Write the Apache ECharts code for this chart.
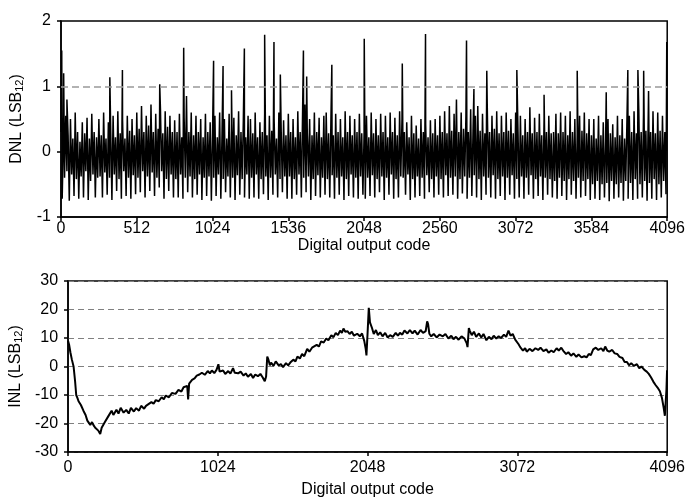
<!DOCTYPE html>
<html>
<head>
<meta charset="utf-8">
<script src="https://cdn.jsdelivr.net/npm/echarts@6/dist/echarts.min.js"></script>
<style>
  html, body { margin: 0; padding: 0; background: #fff; }
  #chart { width: 688px; height: 499px; }
</style>
</head>
<body>
<div id="chart"></div>
<script>
// DNL band, one value every 8 codes (alternating high / low excursions)
var dnlStep = 8;
var dnlBand = [
  0.3, -0.72, 0.2, -0.4, 0.55, -0.3, 0.25, -0.75, 0.5, -0.35, 0.2, -0.68, 0.6, -0.42, 0.3, -0.72, 0.15, -0.38, 0.45, -0.7, 0.28, -0.3, 0.52, -0.74, 0.2, -0.45, 0.58, -0.35, 0.3, -0.7, 0.22, -0.4,
  0.5, -0.38, 0.25, -0.7, 0.6, -0.32, 0.2, -0.66, 0.45, -0.4, 0.3, -0.74, 0.55, -0.35, 0.22, -0.6, 0.62, -0.42, 0.28, -0.72, 0.48, -0.3, 0.2, -0.68, 0.55, -0.4, 0.32, -0.72, 0.5, -0.36, 0.25, -0.65,
  0.6, -0.4, 0.35, -0.62, 0.7, -0.3, 0.3, -0.7, 0.55, -0.38, 0.4, -0.6, 0.72, -0.32, 0.3, -0.68, 0.58, -0.4, 0.35, -0.55, 0.65, -0.3, 0.28, -0.72, 0.62, -0.42, 0.38, -0.6, 0.55, -0.35, 0.3, -0.7,
  0.48, -0.42, 0.3, -0.7, 0.58, -0.35, 0.22, -0.72, 0.52, -0.4, 0.85, -0.62, 0.3, -0.38, 0.6, -0.7, 0.25, -0.42, 0.55, -0.66, 0.3, -0.35, 0.5, -0.74, 0.22, -0.4, 0.58, -0.68, 0.3, -0.38, 0.45, -0.75,
  0.3, -0.4, 0.55, -0.68, 0.22, -0.35, 0.6, -0.72, 0.28, -0.42, 0.5, -0.62, 0.2, -0.38, 0.58, -0.7, 0.32, -0.4, 0.52, -0.74, 0.25, -0.36, 0.62, -0.66, 0.3, -0.42, 0.48, -0.7, 0.22, -0.35, 0.55, -0.72,
  0.5, -0.4, 0.28, -0.7, 0.6, -0.35, 0.22, -0.72, 0.45, -0.42, 0.3, -0.65, 0.58, -0.38, 0.25, -0.74, 0.55, -0.4, 0.32, -0.66, 0.5, -0.35, 0.2, -0.7, 0.6, -0.42, 0.3, -0.62, 0.48, -0.38, 0.25, -0.72,
  0.58, -0.38, 0.3, -0.72, 0.5, -0.42, 0.22, -0.66, 0.62, -0.35, 0.3, -0.7, 0.55, -0.4, 0.72, -0.62, 0.28, -0.38, 0.5, -0.74, 0.25, -0.42, 0.6, -0.68, 0.3, -0.36, 0.52, -0.7, 0.22, -0.4, 0.55, -0.66,
  0.6, -0.42, 0.28, -0.7, 0.52, -0.36, 0.25, -0.72, 0.58, -0.4, 0.3, -0.66, 0.5, -0.38, 0.22, -0.74, 0.62, -0.42, 0.3, -0.68, 0.55, -0.35, 0.25, -0.7, 0.5, -0.4, 0.3, -0.72, 0.58, -0.38, 0.28, -0.66,
  0.3, -0.72, 0.55, -0.4, 0.22, -0.68, 0.6, -0.36, 0.28, -0.7, 0.5, -0.42, 0.25, -0.62, 0.58, -0.38, 0.3, -0.74, 0.55, -0.4, 0.22, -0.66, 0.6, -0.35, 0.3, -0.72, 0.52, -0.42, 0.25, -0.7, 0.62, -0.38,
  0.5, -0.4, 0.3, -0.66, 0.45, -0.35, 0.22, -0.74, 0.55, -0.42, 0.28, -0.7, 0.4, -0.38, 0.2, -0.68, 0.5, -0.4, 0.3, -0.72, 0.42, -0.36, 0.22, -0.62, 0.48, -0.42, 0.28, -0.7, 0.5, -0.38, 0.25, -0.66,
  0.55, -0.42, 0.3, -0.7, 0.62, -0.36, 0.28, -0.68, 0.7, -0.4, 0.32, -0.66, 0.58, -0.38, 0.8, -0.72, 0.3, -0.42, 0.6, -0.64, 0.35, -0.38, 0.55, -0.72, 0.3, -0.4, 0.65, -0.68, 0.32, -0.36, 0.55, -0.7,
  0.7, -0.42, 0.32, -0.74, 0.58, -0.38, 0.28, -0.66, 0.72, -0.4, 0.3, -0.7, 0.55, -0.36, 0.35, -0.72, 0.62, -0.42, 0.28, -0.68, 0.55, -0.38, 0.3, -0.74, 0.6, -0.4, 0.32, -0.66, 0.5, -0.36, 0.28, -0.72,
  0.6, -0.42, 0.3, -0.7, 0.55, -0.38, 0.25, -0.72, 0.5, -0.4, 0.3, -0.66, 0.68, -0.36, 0.28, -0.72, 0.52, -0.42, 0.3, -0.68, 0.58, -0.38, 0.25, -0.74, 0.5, -0.4, 0.3, -0.66, 0.55, -0.42, 0.28, -0.7,
  0.3, -0.45, 0.58, -0.72, 0.28, -0.4, 0.6, -0.68, 0.3, -0.45, 0.55, -0.74, 0.25, -0.42, 0.62, -0.66, 0.3, -0.45, 0.5, -0.72, 0.28, -0.4, 0.55, -0.7, 0.32, -0.45, 0.6, -0.68, 0.28, -0.42, 0.5, -0.74,
  0.25, -0.5, 0.5, -0.72, 0.2, -0.45, 0.55, -0.74, 0.25, -0.5, 0.45, -0.7, 0.2, -0.48, 0.5, -0.76, 0.28, -0.45, 0.42, -0.72, 0.22, -0.5, 0.55, -0.7, 0.25, -0.48, 0.5, -0.75, 0.2, -0.45, 0.48, -0.72,
  0.55, -0.48, 0.3, -0.74, 0.62, -0.42, 0.28, -0.72, 0.65, -0.5, 0.3, -0.7, 0.6, -0.45, 0.32, -0.75, 0.58, -0.48, 0.3, -0.72, 0.62, -0.42, 0.28, -0.74, 0.6, -0.5, 0.32, -0.7, 0.55, -0.45, 0.3, -0.65
];

// tall DNL spikes [code, value]
var dnlSpikes = [
  [5, 1.55], [18, 1.2], [40, 0.8], [330, 1.14], [415, 1.25], [667, 1.03], [829, 1.59],
  [1031, 1.39], [1095, 1.31], [1152, 0.94], [1239, 1.58], [1376, 1.79], [1439, 1.68],
  [1482, 1.18], [1638, 1.55], [1660, 1.15], [1830, 1.33], [2049, 1.73], [2306, 1.35],
  [2463, 1.8], [2740, 1.7], [2790, 0.96], [2877, 1.24], [3080, 1.25], [3264, 0.87],
  [3488, 1.24], [3684, 0.91], [3830, 1.25], [3898, 1.25], [3937, 1.24], [3970, 0.93],
  [4093, 1.68]
];

// INL curve [code, value]
var inlPoints = [
  [0, 9], [8, 7.5], [16, 5], [26, 2.5], [38, 0], [48, -5], [56, -10], [64, -11], [72, -12.2],
  [88, -13.5], [106, -15.6], [120, -17], [132, -19], [140, -18.5], [152, -20.5], [164, -19.5],
  [173, -20.5], [186, -21.5], [196, -21], [207, -22.5], [220, -23.7], [230, -21.5], [240, -22],
  [252, -19.5], [262, -20], [275, -17.5], [285, -17.5], [298, -15.5], [310, -17], [331, -15.2],
  [345, -16.5], [360, -14.5], [380, -16.2], [398, -15.2], [415, -16.5], [430, -14.5], [450, -15.8],
  [466, -14.6], [485, -15.5], [500, -13.8], [520, -14.8], [533, -13.8], [550, -13.2], [570, -12.5],
  [585, -13.1], [600, -11.8], [620, -12.2], [640, -10.8], [655, -11.5], [668, -10.2], [690, -10.8],
  [710, -9.3], [735, -9.6], [755, -8.2], [775, -8.8], [790, -7.3], [803, -7.8], [815, -6.8],
  [821, -11.6], [828, -6], [848, -4.7], [865, -4.2], [880, -3.2], [898, -2.8], [915, -2.2],
  [935, -2.9], [955, -1.6], [970, -2.4], [983, -1.4], [1000, -2.3], [1015, -1.2], [1028, 0.8],
  [1036, -1.8], [1060, -1.4], [1075, -2.6], [1095, -1.6], [1110, -2.5], [1128, -0.6], [1140, -2.2],
  [1163, -2.4], [1180, -1.8], [1200, -3.2], [1215, -2.4], [1230, -3.6], [1250, -2.6], [1265, -4],
  [1280, -2.8], [1298, -3.4], [1315, -2.6], [1330, -3.8], [1345, -5.2], [1354, -3.5], [1362, 3.5],
  [1370, 2.4], [1380, 0.4], [1388, 1.4], [1405, 0.2], [1420, 1.8], [1440, 0.4], [1455, 0.8],
  [1470, -0.2], [1490, 1.2], [1505, 0.4], [1523, 1.6], [1540, 2.4], [1555, 1.8], [1568, 3.5],
  [1585, 2.8], [1600, 4.4], [1615, 3.6], [1635, 6.2], [1650, 5.2], [1668, 6.6], [1680, 6.1],
  [1700, 7.6], [1715, 7], [1730, 8.8], [1748, 8.4], [1765, 9.8], [1780, 9.2], [1800, 11],
  [1815, 10.3], [1830, 11.8], [1845, 11], [1860, 12.6], [1872, 11.8], [1883, 13.3], [1895, 12.2],
  [1910, 12.4], [1925, 11.4], [1940, 12.2], [1955, 10.8], [1977, 11.5], [1995, 10.6], [2010, 11.6],
  [2025, 9], [2035, 6.2], [2040, 3.9], [2048, 12], [2056, 20.6], [2064, 15.5], [2078, 13.5],
  [2090, 11.4], [2105, 12.8], [2118, 11], [2134, 12], [2150, 10.6], [2168, 11.8], [2185, 10.2],
  [2202, 11], [2220, 10.4], [2240, 11.8], [2255, 10.8], [2269, 11.8], [2285, 11.2], [2300, 12.6],
  [2320, 11.6], [2337, 12.8], [2355, 11.6], [2370, 12.6], [2390, 11.2], [2410, 12.8], [2427, 11.8],
  [2445, 12.4], [2455, 15.8], [2461, 15], [2470, 11.5], [2483, 10.6], [2500, 11.4], [2520, 10.2],
  [2540, 11.2], [2562, 10.6], [2580, 11.4], [2600, 9.8], [2620, 10.8], [2635, 9.6], [2652, 10.4],
  [2670, 9.4], [2690, 10.6], [2710, 9.8], [2725, 8.2], [2731, 6.8], [2740, 13.5], [2746, 12.6],
  [2760, 11], [2775, 12.2], [2790, 10.4], [2809, 11.6], [2825, 10.2], [2840, 11.4], [2860, 9.2],
  [2877, 10.4], [2895, 9.6], [2910, 10.8], [2928, 9.8], [2944, 10.6], [2960, 10], [2980, 11.2],
  [2995, 10.4], [3011, 12.6], [3025, 10.8], [3040, 11.4], [3057, 9.4], [3070, 9.8], [3080, 7.8],
  [3091, 6.8], [3110, 5.6], [3125, 6.4], [3136, 5.2], [3155, 6.2], [3175, 5.4], [3195, 6.4],
  [3214, 5.8], [3230, 6.6], [3250, 5.4], [3270, 6], [3285, 4.8], [3304, 5.6], [3320, 5],
  [3340, 6.4], [3355, 5.6], [3372, 6.6], [3390, 5.2], [3405, 4.4], [3420, 5], [3439, 3.8],
  [3455, 4.6], [3475, 3.4], [3490, 4.2], [3510, 3.2], [3529, 3.6], [3545, 3.2], [3560, 4.4],
  [3574, 4], [3590, 6], [3608, 6.6], [3625, 5.8], [3645, 6.4], [3660, 5.4], [3672, 7], [3686, 5.6],
  [3700, 5.2], [3720, 5.8], [3737, 4.6], [3754, 4.4], [3770, 3.4], [3790, 3], [3805, 1.6],
  [3821, 1.6], [3835, 0.4], [3850, 1.2], [3868, 0.2], [3889, 0.8], [3905, -0.6], [3920, 0],
  [3940, -1.2], [3956, -1.8], [3970, -2.6], [3985, -3.8], [4001, -5.3], [4015, -6.4], [4030, -7.4],
  [4046, -8.7], [4060, -11], [4072, -14.5], [4080, -17.3], [4086, -17.6], [4091, -8], [4095, -1.3]
];

var dnlTicks = [0, 512, 1024, 1536, 2048, 2560, 3072, 3584, 4096];
var inlTicks = [0, 1024, 2048, 3072, 4096];

// merge band + spikes, sorted by code
var dnlData = dnlBand.map(function (v, i) { return [i * dnlStep, v]; })
  .concat(dnlSpikes)
  .sort(function (a, b) { return a[0] - b[0]; });

var font = '"Liberation Sans", Arial, sans-serif';
var nameRich = { sub: { fontSize: 11, fontFamily: font, color: '#000', verticalAlign: 'bottom' } };

function xAxis(gridIndex, ticks, labelMargin, nameGap) {
  return {
    type: 'value', gridIndex: gridIndex,
    min: 0, max: 4096, interval: ticks[1] - ticks[0],
    name: 'Digital output code', nameLocation: 'middle', nameGap: nameGap,
    nameTextStyle: { fontSize: 16, fontFamily: font, color: '#000' },
    axisLine: { onZero: false, lineStyle: { color: '#000', width: 1.5 } },
    axisTick: { show: true, length: 4, lineStyle: { color: '#000', width: 1.5 } },
    axisLabel: {
      fontSize: 16, fontFamily: font, color: '#000', margin: labelMargin,
      formatter: function (v) { return String(v); }
    },
    splitLine: { show: false }
  };
}

function yAxis(gridIndex, min, max, step, name, split) {
  return {
    type: 'value', gridIndex: gridIndex, min: min, max: max, interval: step,
    name: name, nameLocation: 'middle', nameGap: 36,
    nameTextStyle: { fontSize: 16, fontFamily: font, color: '#000', rich: nameRich },
    axisLine: { show: true, onZero: false, lineStyle: { color: '#000', width: 1.5 } },
    axisTick: { show: true, length: 4, lineStyle: { color: '#000', width: 1.5 } },
    axisLabel: { fontSize: 16, fontFamily: font, color: '#000', margin: 10 },
    splitLine: { show: split, lineStyle: { color: '#808080', width: 1, type: [6, 4] } }
  };
}

var chart = echarts.init(document.getElementById('chart'));
chart.setOption({
  animation: false,
  backgroundColor: '#fff',
  grid: [
    { left: 61, top: 21, width: 607, height: 196, show: true, borderColor: '#000', borderWidth: 1.5 },
    { left: 61, top: 281, width: 607, height: 173, show: true, borderColor: '#000', borderWidth: 1.5 }
  ],
  xAxis: [xAxis(0, dnlTicks, 4, 18), xAxis(1, inlTicks, 8, 30)],
  yAxis: [
    yAxis(0, -1, 2, 1, 'DNL (LSB{sub|12})', false),
    yAxis(1, -30, 30, 10, 'INL (LSB{sub|12})', true)
  ],
  series: [
    {
      type: 'line', xAxisIndex: 0, yAxisIndex: 0,
      data: dnlData, showSymbol: false, symbol: 'none',
      lineStyle: { color: '#000', width: 1.5 },
      markLine: {
        silent: true, symbol: 'none', label: { show: false },
        lineStyle: { color: '#999', width: 1.5, type: [7, 4] },
        data: [{ yAxis: 1 }]
      },
      z: 3
    },
    {
      type: 'line', xAxisIndex: 1, yAxisIndex: 1,
      data: inlPoints, showSymbol: false, symbol: 'none',
      lineStyle: { color: '#000', width: 2 }
    }
  ]
});
</script>
</body>
</html>
